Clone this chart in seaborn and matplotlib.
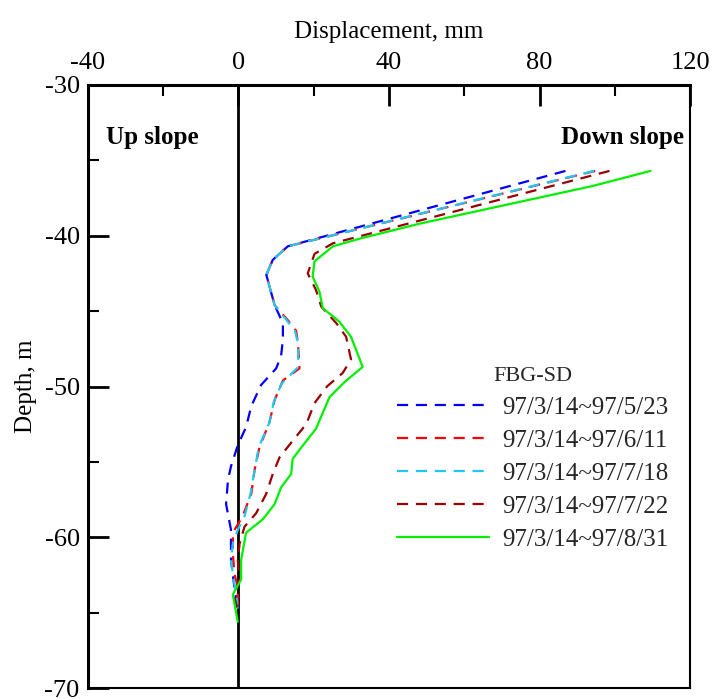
import matplotlib
matplotlib.use("Agg")
import matplotlib.pyplot as plt
from matplotlib.ticker import MultipleLocator
import numpy as np
import pandas as pd
import seaborn as sns

sns.set_theme(style="white")
plt.rcParams["font.family"] = ["Liberation Serif", "DejaVu Serif"]
plt.rcParams["axes.unicode_minus"] = False

# Inclinometer (FBG-SD) displacement profiles, depth in m, displacement in mm
labels = ["97/3/14~97/5/23", "97/3/14~97/6/11", "97/3/14~97/7/18",
          "97/3/14~97/7/22", "97/3/14~97/8/31"]

depth_0523 = [-35.7, -40.7, -41.6, -42.6, -44.6, -45.8, -46.9, -48.0, -48.8, -49.9,
              -51.3, -52.7, -53.9, -55.3, -56.2, -57.8, -59.5, -61.5, -63.3, -64.8]
disp_0523 = [86.9, 13.1, 9.1, 7.4, 9.6, 11.8, 11.8, 11.3, 10.0, 6.0,
             3.4, 2.0, -0.2, -2.0, -2.8, -3.3, -2.0, -2.0, -1.1, -0.2]

depth_0611 = [-35.7, -40.7, -41.6, -42.6, -44.6, -45.6, -46.3, -47.1, -48.8, -49.6,
              -50.9, -52.4, -54.0, -55.5, -57.1, -58.6, -59.7, -61.1, -62.4, -63.3, -64.8]
disp_0611 = [94.8, 13.1, 9.1, 7.4, 9.6, 13.1, 15.3, 15.8, 16.2, 11.8,
             9.6, 8.2, 5.6, 4.3, 3.4, 1.1, -1.5, -1.5, -1.1, -0.2, -0.2]

depth_0718 = [-35.7, -40.7, -41.6, -42.6, -44.6, -45.6, -46.3, -47.1, -48.7, -49.8,
              -51.0, -52.4, -54.0, -55.5, -57.1, -58.6, -59.4, -60.4, -61.5, -62.8, -63.8, -64.8]
disp_0718 = [94.5, 13.1, 9.1, 7.4, 9.6, 12.8, 15.0, 15.8, 15.9, 11.5,
             9.4, 8.2, 5.4, 4.3, 3.2, 1.6, 0.0, -1.5, -2.0, -1.3, -0.6, -0.2]

depth_0722 = [-35.7, -40.5, -41.2, -42.5, -43.6, -44.7, -45.8, -46.7, -48.2, -49.1,
              -50.0, -51.1, -52.5, -53.6, -54.7, -55.8, -57.1, -58.4, -59.3, -60.4,
              -61.5, -62.8, -64.0, -64.8]
disp_0722 = [98.6, 25.1, 20.2, 18.4, 20.6, 22.0, 26.0, 28.6, 29.9, 27.7,
             23.5, 20.2, 18.0, 14.4, 10.9, 9.1, 7.4, 4.7, 1.6, 0.3,
             -0.2, 0.3, -1.1, -0.2]

depth_0831 = [-35.7, -36.7, -39.2, -40.2, -40.7, -41.7, -42.7, -43.7, -44.8, -45.7,
              -46.7, -48.7, -49.7, -50.7, -52.8, -54.2, -54.8, -55.8, -56.7, -57.8,
              -58.8, -59.7, -61.5, -62.8, -63.8, -65.6]
disp_0831 = [109.5, 94.1, 48.1, 32.1, 25.1, 20.2, 19.7, 21.5, 22.4, 26.8,
             29.9, 33.0, 28.2, 24.2, 20.6, 16.2, 14.4, 14.0, 11.3, 9.6,
             6.5, 2.0, 0.7, 0.7, -1.5, -0.2]

depths = [depth_0523, depth_0611, depth_0718, depth_0722, depth_0831]
disps = [disp_0523, disp_0611, disp_0718, disp_0722, disp_0831]

frames = []
for lab, d, x in zip(labels, depths, disps):
    frames.append(pd.DataFrame({"series": lab, "depth": d, "disp": x,
                                "order": np.arange(len(d))}))
df = pd.concat(frames, ignore_index=True)

palette = {labels[0]: "#0000FF", labels[1]: "#FF0000", labels[2]: "#1EC8F5",
           labels[3]: "#9A0000", labels[4]: "#00F000"}
dashes = {labels[0]: (5, 3.5), labels[1]: (5, 3.5), labels[2]: (5, 3.5),
          labels[3]: (5, 3.5), labels[4]: ""}

fig = plt.figure(figsize=(7.16, 6.99), dpi=100)
ax = fig.add_axes([0.1229, 0.0157, 0.8408, 0.8627])

sns.lineplot(data=df, x="disp", y="depth", hue="series", style="series",
             hue_order=labels, style_order=labels, palette=palette, dashes=dashes,
             sort=False, estimator=None, units="series", linewidth=1.6, ax=ax)

ax.axvline(0, color="black", lw=2, zorder=1)

ax.set_xlim(-40, 120)
ax.set_ylim(-70, -30)

ax.xaxis.set_major_locator(MultipleLocator(40))
ax.xaxis.set_minor_locator(MultipleLocator(20))
ax.yaxis.set_major_locator(MultipleLocator(10))
ax.yaxis.set_minor_locator(MultipleLocator(5))

ax.xaxis.tick_top()
ax.xaxis.set_label_position("top")
ax.tick_params(axis="x", which="both", direction="in", top=True, bottom=False,
               labelsize=19, pad=8, colors="black")
ax.tick_params(axis="x", which="major", length=15, width=2)
ax.tick_params(axis="x", which="minor", length=8, width=1.5)
ax.tick_params(axis="y", which="both", direction="in", left=True, right=False,
               labelsize=19, pad=6, colors="black")
ax.tick_params(axis="y", which="major", length=15, width=2)
ax.tick_params(axis="y", which="minor", length=8, width=1.5)

ax.set_xlabel("Displacement, mm", fontsize=18, labelpad=10, color="black")
ax.set_ylabel("Depth, m", fontsize=18, labelpad=5, color="black")

for side in ["left", "top"]:
    ax.spines[side].set_linewidth(2.2)
for side in ["right", "bottom"]:
    ax.spines[side].set_linewidth(1.5)
for s in ax.spines.values():
    s.set_color("black")

ax.text(-35.1, -33.5, "Up slope", fontsize=18, fontweight="bold",
        ha="left", va="center", color="black")
ax.text(118.3, -33.5, "Down slope", fontsize=18, fontweight="bold",
        ha="right", va="center", color="black")

handles, labs = ax.get_legend_handles_labels()
leg = ax.legend(handles, labs, title="FBG-SD", frameon=False, loc="upper left",
                bbox_to_anchor=(0.513, 0.532), borderpad=0, borderaxespad=0,
                handlelength=3.7, handletextpad=0.52, labelspacing=0.42,
                fontsize=18, title_fontsize=16)
for line in leg.get_lines():
    line.set_linewidth(1.6)

fig.savefig("out.png", dpi=100)
